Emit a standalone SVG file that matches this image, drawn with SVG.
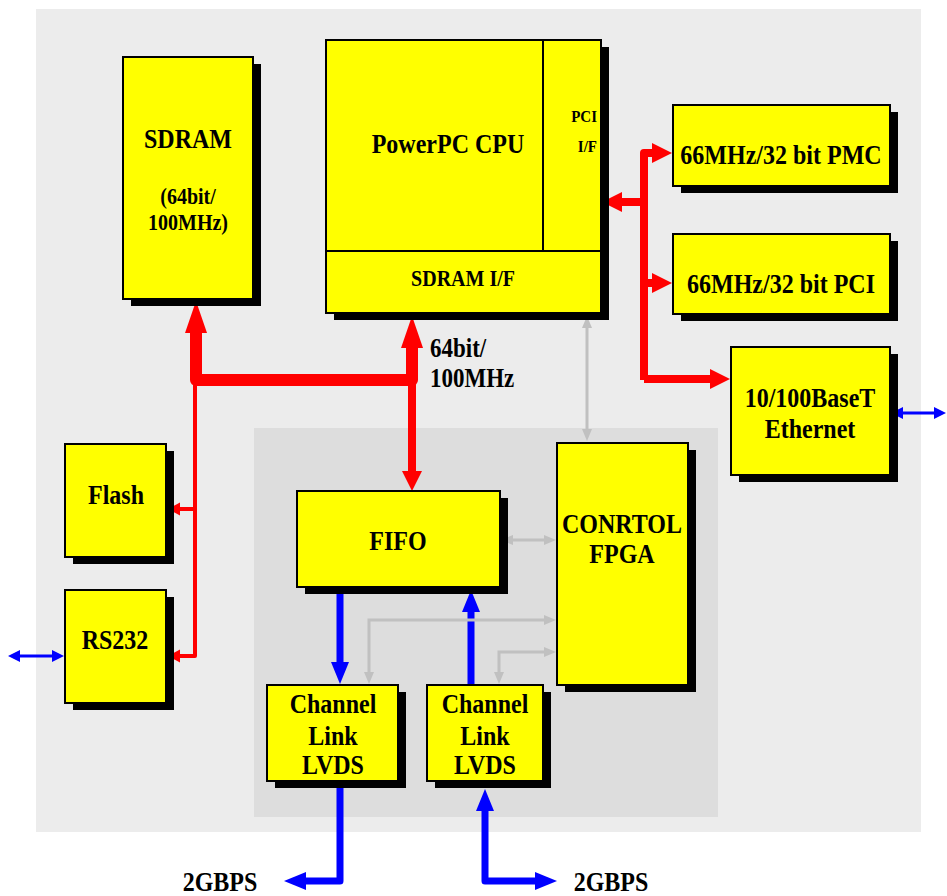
<svg xmlns="http://www.w3.org/2000/svg" width="947" height="896" viewBox="0 0 947 896">
<style>
.box{fill:#ffff00;stroke:#000;stroke-width:2}
.sh{fill:#000}
.t{font-family:"Liberation Serif","Times New Roman",serif;font-weight:bold;font-size:24px;fill:#000;text-anchor:middle}
.s{font-size:20px}
.m{font-size:23px;text-anchor:start}
.xs{font-size:15px;text-anchor:end}
.red{stroke:#ff0000;fill:none;stroke-linejoin:round}
.blue{stroke:#0000ff;fill:none;stroke-linejoin:round}
.gray{stroke:#c0c0c0;fill:none;stroke-width:3}
</style>
<defs>
<marker id="rB" markerUnits="userSpaceOnUse" markerWidth="34" markerHeight="24" refX="1" refY="11" orient="auto-start-reverse" overflow="visible"><path d="M0,0 L32,11 L0,22 z" fill="#ff0000"/></marker>
<marker id="rM" markerUnits="userSpaceOnUse" markerWidth="22" markerHeight="22" refX="1" refY="10" orient="auto-start-reverse" overflow="visible"><path d="M0,0 L20,10 L0,20 z" fill="#ff0000"/></marker>
<marker id="rS" markerUnits="userSpaceOnUse" markerWidth="14" markerHeight="14" refX="1" refY="6.5" orient="auto-start-reverse" overflow="visible"><path d="M0,0 L12,6.5 L0,13 z" fill="#ff0000"/></marker>
<marker id="bM" markerUnits="userSpaceOnUse" markerWidth="24" markerHeight="20" refX="1" refY="9" orient="auto-start-reverse" overflow="visible"><path d="M0,0 L22,9 L0,18 z" fill="#0000ff"/></marker>
<marker id="bS" markerUnits="userSpaceOnUse" markerWidth="14" markerHeight="14" refX="1" refY="6" orient="auto-start-reverse" overflow="visible"><path d="M0,0 L12,6 L0,12 z" fill="#0000ff"/></marker>
<marker id="g" markerUnits="userSpaceOnUse" markerWidth="14" markerHeight="12" refX="1" refY="5" orient="auto-start-reverse" overflow="visible"><path d="M0,0 L12,5 L0,10 z" fill="#c0c0c0"/></marker>
</defs>

<rect id="background" x="36" y="9" width="885" height="823" fill="#ececec"/>
<rect id="interface-area" x="254" y="428" width="464" height="389" fill="#dddddd"/>

<g id="connectors">
  <path class="red" stroke-width="12" d="M196,332 L196,380 L412,380 L412,347" marker-start="url(#rB)" marker-end="url(#rB)"/>
  <path class="red" stroke-width="8" d="M412,380 L412,472" marker-end="url(#rM)"/>
  <path class="red" stroke-width="4" d="M195,382 L195,656 L179,656" marker-end="url(#rS)"/>
  <path class="red" stroke-width="4" d="M195,509 L179,509" marker-end="url(#rS)"/>
  <path class="red" stroke-width="8" d="M644,380 L644,153 L653,153" marker-end="url(#rM)"/>
  <path class="red" stroke-width="8" d="M644,283 L653,283" marker-end="url(#rM)"/>
  <path class="red" stroke-width="8" d="M644,379 L711,379" marker-end="url(#rM)"/>
  <path class="red" stroke-width="8" d="M644,202 L621,202" marker-end="url(#rM)"/>
  <path class="blue" stroke-width="7" stroke-linecap="round" d="M340,587 L340,663" marker-end="url(#bM)"/>
  <path class="blue" stroke-width="7" stroke-linecap="round" d="M471,686 L471,611" marker-end="url(#bM)"/>
  <path class="blue" stroke-width="7" stroke-linecap="round" d="M340,782 L340,881 L305,881" marker-end="url(#bM)"/>
  <path class="blue" stroke-width="7" d="M485,810 L485,881 L536,881" marker-start="url(#bM)" marker-end="url(#bM)"/>
  <path class="blue" stroke-width="3" d="M19,656 L53,656" marker-start="url(#bS)" marker-end="url(#bS)"/>
  <path class="blue" stroke-width="3" d="M902,413 L935,413" marker-start="url(#bS)" marker-end="url(#bS)"/>
  <path class="gray" d="M587,327 L587,430" marker-start="url(#g)" marker-end="url(#g)"/>
  <path class="gray" d="M512,540 L545,540" marker-start="url(#g)" marker-end="url(#g)"/>
  <path class="gray" d="M545,620 L369,620 L369,673" marker-start="url(#g)" marker-end="url(#g)"/>
  <path class="gray" d="M545,652 L499,652 L499,673" marker-start="url(#g)" marker-end="url(#g)"/>
</g>

<g id="sdram">
  <rect class="sh" x="131" y="64" width="130" height="242"/>
  <rect class="box" x="123" y="57" width="130" height="242"/>
  <text class="t" transform="translate(188,148) scale(1,1.15)">SDRAM</text>
  <text class="t s" transform="translate(188,204) scale(1,1.15)">(64bit/</text>
  <text class="t s" transform="translate(188,230) scale(1,1.15)">100MHz)</text>
</g>

<g id="cpu">
  <rect class="sh" x="334" y="47" width="275" height="273"/>
  <rect class="box" x="326" y="40" width="275" height="273"/>
  <line x1="543" y1="40" x2="543" y2="251" stroke="#000" stroke-width="2"/>
  <line x1="326" y1="251" x2="601" y2="251" stroke="#000" stroke-width="2"/>
  <text class="t" transform="translate(448,153) scale(1,1.15)">PowerPC CPU</text>
  <text class="t xs" transform="translate(597,122) scale(1,1.15)">PCI</text>
  <text class="t xs" transform="translate(597,152) scale(1,1.15)">I/F</text>
  <text class="t s" transform="translate(463,286) scale(1,1.15)">SDRAM I/F</text>
</g>

<g id="bus-label">
  <text class="t m" transform="translate(430,357) scale(1,1.15)">64bit/</text>
  <text class="t m" transform="translate(430,387) scale(1,1.15)">100MHz</text>
</g>

<g id="pmc">
  <rect class="sh" x="681" y="112" width="217" height="81"/>
  <rect class="box" x="673" y="105" width="217" height="81"/>
  <text class="t" transform="translate(781,164) scale(1,1.15)">66MHz/32 bit PMC</text>
</g>

<g id="pci">
  <rect class="sh" x="681" y="241" width="217" height="80"/>
  <rect class="box" x="673" y="234" width="217" height="80"/>
  <text class="t" transform="translate(781,293) scale(1,1.15)">66MHz/32 bit PCI</text>
</g>

<g id="ethernet">
  <rect class="sh" x="739" y="354" width="159" height="128"/>
  <rect class="box" x="731" y="347" width="159" height="128"/>
  <text class="t" transform="translate(810,407) scale(1,1.15)">10/100BaseT</text>
  <text class="t" transform="translate(810,438) scale(1,1.15)">Ethernet</text>
</g>

<g id="flash">
  <rect class="sh" x="73" y="451" width="101" height="113"/>
  <rect class="box" x="65" y="444" width="101" height="113"/>
  <text class="t" transform="translate(116,504) scale(1,1.15)">Flash</text>
</g>

<g id="rs232">
  <rect class="sh" x="73" y="597" width="101" height="113"/>
  <rect class="box" x="65" y="590" width="101" height="113"/>
  <text class="t" transform="translate(115,649) scale(1,1.15)">RS232</text>
</g>

<g id="fifo">
  <rect class="sh" x="305" y="498" width="203" height="96"/>
  <rect class="box" x="297" y="491" width="203" height="96"/>
  <text class="t" transform="translate(398,550) scale(1,1.15)">FIFO</text>
</g>

<g id="fpga">
  <rect class="sh" x="565" y="450" width="131" height="242"/>
  <rect class="box" x="557" y="443" width="131" height="242"/>
  <text class="t" transform="translate(622,533) scale(1,1.15)">CONRTOL</text>
  <text class="t" transform="translate(622,563) scale(1,1.15)">FPGA</text>
</g>

<g id="channel-link-1">
  <rect class="sh" x="275" y="692" width="131" height="96"/>
  <rect class="box" x="267" y="685" width="131" height="96"/>
  <text class="t" transform="translate(333,713) scale(1,1.15)">Channel</text>
  <text class="t" transform="translate(333,745) scale(1,1.15)">Link</text>
  <text class="t" transform="translate(333,774) scale(1,1.15)">LVDS</text>
</g>

<g id="channel-link-2">
  <rect class="sh" x="435" y="692" width="116" height="96"/>
  <rect class="box" x="427" y="685" width="116" height="96"/>
  <text class="t" transform="translate(485,713) scale(1,1.15)">Channel</text>
  <text class="t" transform="translate(485,745) scale(1,1.15)">Link</text>
  <text class="t" transform="translate(485,774) scale(1,1.15)">LVDS</text>
</g>

<g id="outputs">
  <text class="t" transform="translate(220,891) scale(1,1.15)">2GBPS</text>
  <text class="t" transform="translate(611,891) scale(1,1.15)">2GBPS</text>
</g>
</svg>
